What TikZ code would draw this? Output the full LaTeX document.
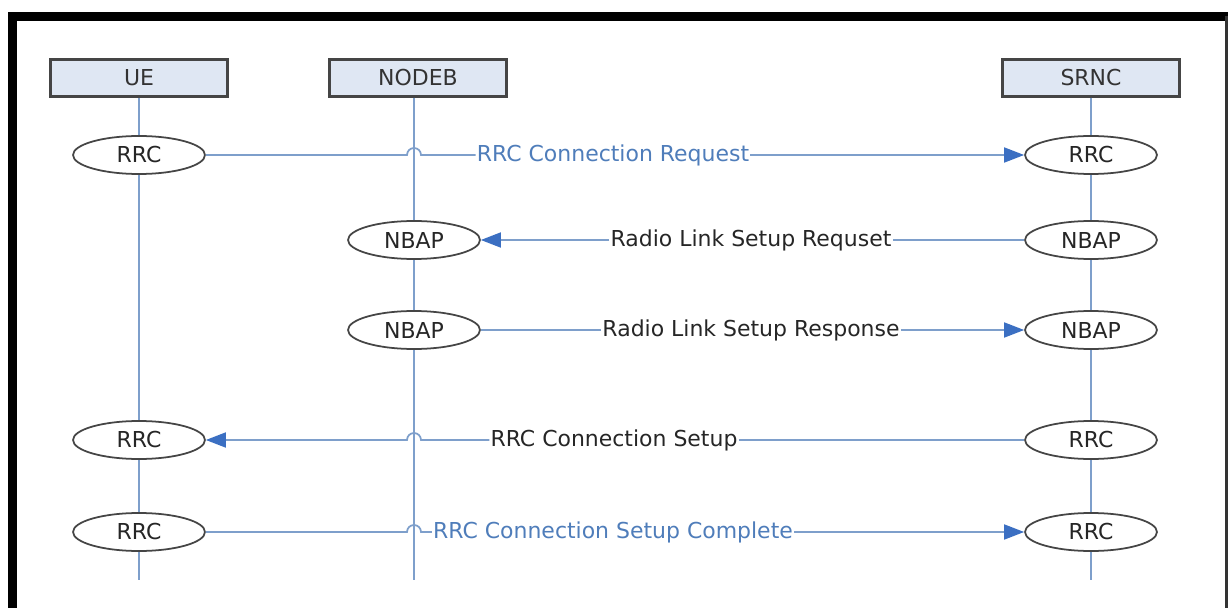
\documentclass[tikz,border=0pt]{standalone}
\usepackage{fontspec}
\setmainfont{DejaVu Sans}
\usetikzlibrary{shapes.geometric,arrows.meta}
\definecolor{lifeblue}{HTML}{7E9FCB}
\definecolor{tipblue}{HTML}{3B6FC2}
\definecolor{msgblue}{HTML}{4F7DBA}
\definecolor{boxfill}{HTML}{DFE7F3}
\definecolor{boxline}{HTML}{454545}
\tikzset{
  lifebox/.style={draw=boxline,line width=1.2pt,fill=boxfill,minimum width=3.54cm,minimum height=0.74cm,inner sep=0pt,font=\fontsize{12.5}{14}\selectfont,text=black!80},
  proto/.style={ellipse,draw=boxline,line width=1pt,fill=white,minimum width=2.64cm,minimum height=0.76cm,inner sep=0pt,font=\fontsize{12.5}{14}\selectfont,text=black!85},
  msg/.style={draw=lifeblue,line width=1pt},
  msgtip/.style={msg,-{Triangle[length=0.4cm,width=0.3cm,color=tipblue]}},
  lbl/.style={inner sep=0.5pt,font=\fontsize{12.5}{14}\selectfont,text=black!85},
  bluelbl/.style={lbl,text=msgblue},
  life/.style={draw=lifeblue,line width=1pt}
}
\begin{document}
\begin{tikzpicture}[x=0.02cm,y=-0.02cm,line cap=butt,line join=miter]
  \useasboundingbox (0,0) rectangle (1232,608);

  % frame
  \draw[line width=0.18cm] (12.5,608) -- (12.5,16.5) -- (1228,16.5);
  \draw[line width=0.06cm,black!80] (1226,16.5) -- (1226,608);

  % heads
  \node[lifebox] (ue)    at (139,78)  {UE};
  \node[lifebox] (nodeb) at (418,78)  {NODEB};
  \node[lifebox] (srnc)  at (1091,78) {SRNC};

  % lifelines
  \coordinate (ueEnd) at (139,580);
  \coordinate (nbEnd) at (414,580);
  \coordinate (srEnd) at (1091,580);
  \draw[life] (ue.south -| ueEnd) -- (ueEnd);
  \draw[life] (nodeb.south -| nbEnd) -- (nbEnd);
  \draw[life] (srnc.south -| srEnd) -- (srEnd);

  % protocol ends
  \node[proto] (ueA) at (139,155) {RRC};
  \node[proto] (srA) at (1091,155) {RRC};
  \node[proto] (nbB) at (414,240) {NBAP};
  \node[proto] (srB) at (1091,240) {NBAP};
  \node[proto] (nbC) at (414,330) {NBAP};
  \node[proto] (srC) at (1091,330) {NBAP};
  \node[proto] (ueD) at (139,440) {RRC};
  \node[proto] (srD) at (1091,440) {RRC};
  \node[proto] (ueE) at (139,532) {RRC};
  \node[proto] (srE) at (1091,532) {RRC};

  % labels
  \node[bluelbl] (m1) at (613,155) {RRC Connection Request};
  \node[lbl]     (m2) at (751,240) {Radio Link Setup Requset};
  \node[lbl]     (m3) at (751,330) {Radio Link Setup Response};
  \node[lbl]     (m4) at (614,440) {RRC Connection Setup};
  \node[bluelbl] (m5) at (613,532) {RRC Connection Setup Complete};

  % messages (hop over the NODEB lifeline)
  \draw[msg] (ueA.east) -- ([xshift=-0.14cm]ueA.east -| nbEnd)
    arc[start angle=180,end angle=0,radius=0.14cm] -- (m1.west);
  \draw[msgtip] (m1.east) -- (srA.west);

  \draw[msg] (srB.west) -- (m2.east);
  \draw[msgtip] (m2.west) -- (nbB.east);

  \draw[msg] (nbC.east) -- (m3.west);
  \draw[msgtip] (m3.east) -- (srC.west);

  \draw[msg] (srD.west) -- (m4.east);
  \draw[msgtip] (m4.west) -- ([xshift=0.14cm]ueD.east -| nbEnd)
    arc[start angle=0,end angle=180,radius=0.14cm] -- (ueD.east);

  \draw[msg] (ueE.east) -- ([xshift=-0.14cm]ueE.east -| nbEnd)
    arc[start angle=180,end angle=0,radius=0.14cm] -- (m5.west);
  \draw[msgtip] (m5.east) -- (srE.west);
\end{tikzpicture}
\end{document}
